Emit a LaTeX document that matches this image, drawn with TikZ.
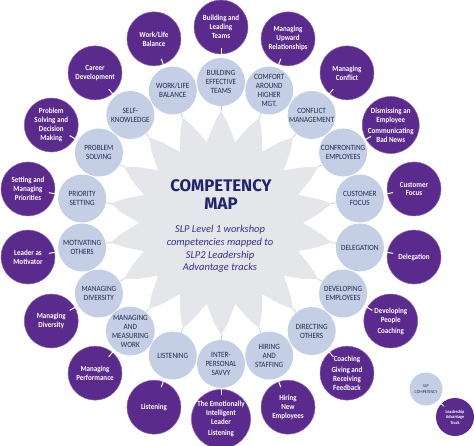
\documentclass[tikz,border=0pt]{standalone}
\usepackage{fontspec}
\setmainfont{Carlito}
\newfontfamily\cf[FakeStretch=0.9]{Carlito}
\newfontfamily\tf{Fira Sans}
\usetikzlibrary{calc}
\definecolor{purp}{RGB}{90,42,140}
\definecolor{purprim}{RGB}{140,100,185}
\definecolor{lblue}{RGB}{196,207,230}
\definecolor{innertxt}{RGB}{35,40,80}
\definecolor{navy}{RGB}{30,36,110}
\definecolor{subnavy}{RGB}{48,52,140}
\definecolor{stargrey}{RGB}{229,230,233}
\begin{document}
\begin{tikzpicture}[x=1pt,y=-1pt,
  innerc/.style={circle,fill=lblue,minimum size=48pt,inner sep=0pt,align=center,
    font=\cf\fontsize{8}{9}\selectfont,text=innertxt},
  outerc/.style={circle,fill=purp,draw=purprim,line width=0.5pt,minimum size=54pt,inner sep=0pt,align=center,
    font=\cf\bfseries\fontsize{7.8}{9}\selectfont,text=white},
  spoke/.style={draw=lblue,line width=0.8pt},
  tick/.style={draw=white,line width=1pt,shorten >=-6pt}]
\useasboundingbox (0,0) rectangle (474,445);
% central star with blunt rays and pentagon notches
\fill[stargrey] ({221+112*cos(90)},{223-112*sin(90)})
  \foreach \k in {0,...,17}{
    -- ({221+100*cos(86-20*\k)},{223-100*sin(86-20*\k)})
    -- ({221+82*cos(80-20*\k)},{223-82*sin(80-20*\k)})
    -- ({221+100*cos(74-20*\k)},{223-100*sin(74-20*\k)})
    -- ({221+112*cos(70-20*\k)},{223-112*sin(70-20*\k)}) } -- cycle;
% circles
\foreach \k/\a/\intext/\outtext in {
 0/90/{BUILDING\\EFFECTIVE\\TEAMS}/{Building and\\Leading\\Teams},
 1/70/{COMFORT\\AROUND\\HIGHER\\MGT.}/{Managing\\Upward\\Relationships},
 2/50/{CONFLICT\\MANAGEMENT}/{Managing\\Conflict},
 3/30/{CONFRONTING\\EMPLOYEES}/{Dismissing an\\Employee\\[2pt]Communicating\\Bad News},
 4/10/{CUSTOMER\\FOCUS}/{Customer\\Focus},
 5/-10/{DELEGATION}/{Delegation},
 6/-30/{DEVELOPING\\EMPLOYEES}/{Developing\\People\\[2pt]Coaching},
 7/-50/{DIRECTING\\OTHERS}/{Coaching\\[2pt]Giving and\\Receiving\\Feedback},
 8/-70/{HIRING\\AND\\STAFFING}/{Hiring\\New\\Employees},
 9/-90/{INTER-\\PERSONAL\\SAVVY}/{The Emotionally\\Intelligent\\Leader\\[2pt]Listening},
 10/-110/{LISTENING}/{Listening},
 11/-130/{MANAGING\\AND\\MEASURING\\WORK}/{Managing\\Performance},
 12/-150/{MANAGING\\DIVERSITY}/{Managing\\Diversity},
 13/-170/{MOTIVATING\\OTHERS}/{Leader as\\Motivator},
 14/170/{PRIORITY\\SETTING}/{Setting and\\Managing\\Priorities},
 15/150/{PROBLEM\\SOLVING}/{Problem\\Solving and\\Decision\\Making},
 16/130/{SELF-\\KNOWLEDGE}/{Career\\Development},
 17/110/{WORK/LIFE\\BALANCE}/{Work/Life\\Balance}}{
  \coordinate (t\k) at ({221+112*cos(\a)},{223-112*sin(\a)});
  \node[innerc] (i\k) at ({221+141*cos(\a)},{223-141*sin(\a)}) {\intext};
  \node[outerc] (o\k) at ({221+196*cos(\a)},{223-196*sin(\a)}) {\outtext};
  \draw[spoke] (t\k) -- (i\k);
  \draw[tick] (i\k) -- (o\k);
}
% centre text
\node[font=\tf\bfseries\fontsize{16.8}{17.5}\selectfont,text=navy,align=center] (title) at (221,194.5) {COMPETENCY\\MAP};
\node[font=\itshape\fontsize{10.5}{12.7}\selectfont,text=subnavy,align=center] (sub) at (220,249) {SLP Level 1 workshop\\competencies mapped to\\SLP2 Leadership\\Advantage tracks};
% legend
\node[circle,fill=lblue,minimum size=33pt,inner sep=0pt,align=center,font=\cf\fontsize{4.4}{5.4}\selectfont,text=innertxt] (li) at (426,389) {SLP\\COMPETENCY};
\node[circle,fill=purp,minimum size=38pt,inner sep=0pt,align=center,font=\cf\bfseries\fontsize{4.6}{5.6}\selectfont,text=white] (lo) at (455,417) {Leadership\\Advantage\\Track};
\draw[draw=white,line width=0.8pt,shorten >=-4pt] (li) -- (lo);
\end{tikzpicture}
\end{document}
